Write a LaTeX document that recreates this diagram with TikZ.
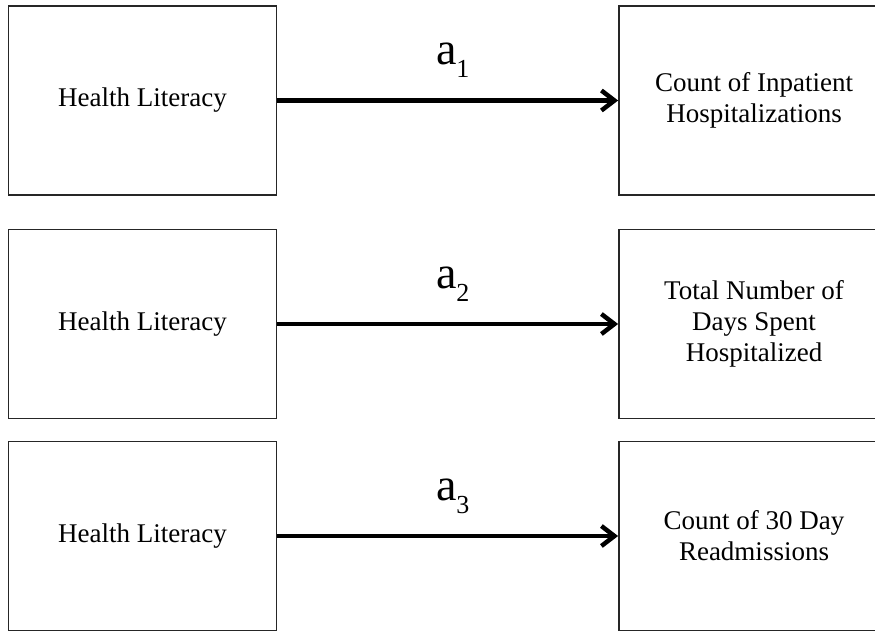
\documentclass[tikz,border=0pt]{standalone}
\usepackage{fontspec}
\setmainfont{Liberation Serif}
\usetikzlibrary{arrows.meta,positioning}

\newcommand{\coefsub}[1]{a\raisebox{-13pt}{\fontsize{26}{26}\selectfont #1}}

\tikzset{
  varbox/.style={draw=black!85, line width=1.8pt, minimum width=268pt, minimum height=189pt,
    align=center, inner sep=0pt, font=\fontsize{27}{31}\selectfont},
  outbox/.style={varbox, minimum width=270pt},
  effarrow/.style={line width=4.5pt, -{Straight Barb[length=13pt,width=20pt,line width=4.5pt]}},
  coef/.style={anchor=base, yshift=36pt, xshift=5pt, font=\fontsize{46}{46}\selectfont}
}

\begin{document}
\begin{tikzpicture}[x=1pt,y=-1pt] % 1pt = 1px of the reference
\useasboundingbox (0,0) rectangle (875,632);
\clip (0,0) rectangle (875,632);

% row 1 (top)
\node [varbox] (hl1) at (142.5,100.5) {Health Literacy};
\node [outbox] (out1) at (754,100.5) {Count of Inpatient\\Hospitalizations};
\draw [effarrow] (hl1) -- node [coef] {\coefsub{1}} (out1);

% row 2
\node [varbox] (hl2) at (142.5,324) {Health Literacy};
\node [outbox] (out2) at (754,324) {Total Number of\\Days Spent\\Hospitalized};
\draw [effarrow] (hl2) -- node [coef] {\coefsub{2}} (out2);

% row 3 (bottom)
\node [varbox] (hl3) at (142.5,536) {Health Literacy};
\node [outbox] (out3) at (754,536) {Count of 30 Day\\Readmissions};
\draw [effarrow] (hl3) -- node [coef] {\coefsub{3}} (out3);

\end{tikzpicture}
\end{document}
